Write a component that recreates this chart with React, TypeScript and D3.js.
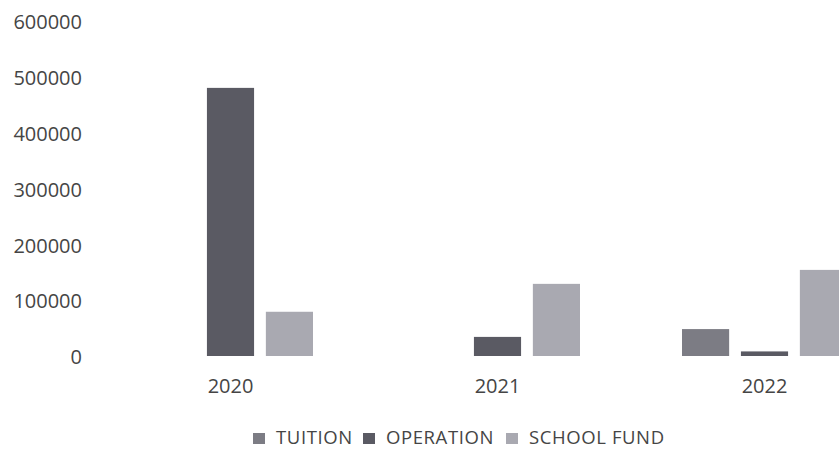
import React from "react";
import * as d3 from "d3";

const years = ["2020", "2021", "2022"];
const seriesNames = ["TUITION", "OPERATION", "SCHOOL FUND"];
const tuition = [0, 0, 50000];
const operation = [482000, 36000, 10000];
const schoolFund = [81000, 131000, 156000];
const yTicks = [0, 100000, 200000, 300000, 400000, 500000, 600000];

const colors = ["#7c7c84", "#5a5a63", "#a9a9b1"];
const W = 839;
const H = 451;

export default function App() {
  const series = [tuition, operation, schoolFund];
  const y = d3.scaleLinear().domain([0, 600000]).range([357, 22]);
  const x = d3.scaleBand<string>().domain(years).range([97, 898]).padding(0);
  const inner = d3
    .scaleBand<string>()
    .domain(seriesNames)
    .range([-82.5, 82.5])
    .paddingInner(0.2)
    .paddingOuter(0);

  const font = "'Open Sans', sans-serif";
  const textColor = "#454545";

  const legendX = [253, 363, 506];

  return (
    <svg
      width={W}
      height={H}
      style={{ position: "absolute", left: 0, top: 0, background: "#fff" }}
    >
      <rect x={0} y={0} width={W} height={H} fill="#fff" />
      {yTicks.map((t) => (
        <text
          key={t}
          x={82}
          y={y(t)}
          dy="0.36em"
          textAnchor="end"
          fontFamily={font}
          fontSize={20}
          fill={textColor}
        >
          {t}
        </text>
      ))}
      {years.map((yr, i) => {
        const cx = (x(yr) as number) + x.bandwidth() / 2;
        return (
          <g key={yr}>
            {seriesNames.map((s, j) => {
              const v = series[j][i];
              if (!v) return null;
              const bx = cx + (inner(s) as number);
              return (
                <rect
                  key={s}
                  x={bx}
                  y={y(v)}
                  width={inner.bandwidth()}
                  height={y(0) - y(v) - 1}
                  fill={colors[j]}
                />
              );
            })}
            <text
              x={cx}
              y={393}
              textAnchor="middle"
              fontFamily={font}
              fontSize={20}
              fill={textColor}
            >
              {yr}
            </text>
          </g>
        );
      })}
      {seriesNames.map((s, j) => (
        <g key={s}>
          <rect x={legendX[j]} y={433} width={12} height={11} fill={colors[j]} />
          <text
            x={legendX[j] + 23}
            y={444}
            fontFamily={font}
            fontSize={18.5}
            letterSpacing={0.6}
            fill={textColor}
          >
            {s}
          </text>
        </g>
      ))}
    </svg>
  );
}
